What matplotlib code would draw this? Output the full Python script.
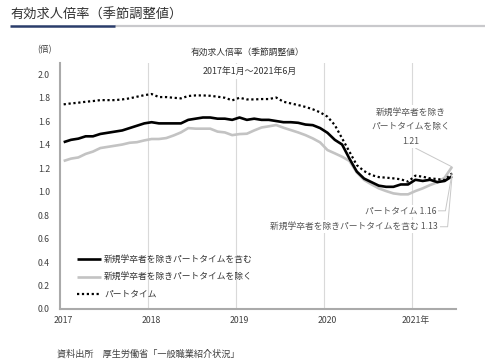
import numpy as np
import pandas as pd
import matplotlib
matplotlib.use("Agg")
import matplotlib.pyplot as plt
from matplotlib.lines import Line2D

plt.rcParams['font.family'] = ['Noto Sans CJK JP', 'DejaVu Sans']

# ---------------- data ----------------
start_month = "2017-01"
incl_part = [1.42, 1.44, 1.45, 1.47, 1.47, 1.49, 1.50, 1.51, 1.52, 1.54, 1.56, 1.58,
             1.59, 1.58, 1.58, 1.58, 1.58, 1.61, 1.62, 1.63, 1.63, 1.62, 1.62, 1.61,
             1.63, 1.61, 1.62, 1.61, 1.61, 1.60, 1.59, 1.59, 1.585, 1.57, 1.565, 1.54,
             1.50, 1.44, 1.40, 1.28, 1.17, 1.11, 1.08, 1.05, 1.04, 1.04, 1.06, 1.06,
             1.10, 1.09, 1.10, 1.08, 1.09, 1.13]
excl_part = [1.26, 1.28, 1.29, 1.32, 1.34, 1.37, 1.38, 1.39, 1.40, 1.415, 1.42, 1.435,
             1.447, 1.447, 1.455, 1.477, 1.503, 1.54, 1.535, 1.535, 1.535, 1.51, 1.503, 1.48,
             1.489, 1.492, 1.52, 1.545, 1.555, 1.566, 1.543, 1.523, 1.503, 1.48, 1.452, 1.418,
             1.353, 1.325, 1.296, 1.26, 1.163, 1.098, 1.061, 1.027, 1.004, 0.984, 0.976, 0.976,
             1.004, 1.027, 1.055, 1.078, 1.118, 1.21]
part_time = [1.742, 1.75, 1.756, 1.764, 1.77, 1.778, 1.778, 1.778, 1.784, 1.793, 1.807, 1.82,
             1.83, 1.804, 1.804, 1.798, 1.793, 1.813, 1.818, 1.818, 1.815, 1.807, 1.798, 1.776,
             1.798, 1.784, 1.784, 1.787, 1.787, 1.80, 1.764, 1.75, 1.736, 1.72, 1.70, 1.674,
             1.637, 1.566, 1.452, 1.339, 1.225, 1.174, 1.14, 1.123, 1.118, 1.112, 1.104, 1.084,
             1.135, 1.126, 1.112, 1.106, 1.098, 1.155]

series_names = ["新規学卒者を除きパートタイムを含む", "新規学卒者を除きパートタイムを除く", "パートタイム"]
year_labels = ["2017", "2018", "2019", "2020", "2021年"]
y_ticks = [0.0, 0.2, 0.4, 0.6, 0.8, 1.0, 1.2, 1.4, 1.6, 1.8, 2.0]

header = "有効求人倍率（季節調整値）"
chart_title = "有効求人倍率（季節調整値）"
period = "2017年1月〜2021年6月"
unit = "(倍)"
source = "資料出所　厚生労働省「一般職業紹介状況」"

# ---------------- figure ----------------
W, H = 500, 362
fig = plt.figure(figsize=(W / 100, H / 100), dpi=100)
fig.patch.set_facecolor("white")

def fx(p):
    return p / W

def fy(p):
    return 1 - p / H

ax_l, ax_r, ax_t, ax_b = 60, 455.7, 63, 309
ax = fig.add_axes([fx(ax_l), fy(ax_b), (ax_r - ax_l) / W, (ax_b - ax_t) / H])

dates = pd.date_range(start_month, periods=len(incl_part), freq="MS")
x = np.arange(len(dates))

ax.set_xlim(-0.5, len(x) - 0.5)
ax.set_ylim(0, 2.094)

# year boundaries (gridlines) and labels
jan_idx = [i for i, d in enumerate(dates) if d.month == 1]
for i in jan_idx[1:]:
    ax.axvline(i - 0.5, color="#d9d9d9", lw=0.8, zorder=0)
ax.set_xticks(jan_idx)
ax.set_xticklabels(year_labels[:len(jan_idx)])
ax.set_yticks(y_ticks)
ax.set_yticklabels([f"{v:.1f}" for v in y_ticks])
ax.tick_params(axis="both", length=0, labelsize=6.3, colors="#404040")
ax.tick_params(axis="y", pad=7.2)
ax.tick_params(axis="x", pad=5)

for s in ["top", "right"]:
    ax.spines[s].set_visible(False)
for s in ["left", "bottom"]:
    ax.spines[s].set_color("#aaaaaa")
    ax.spines[s].set_linewidth(1.5)

# series
black_kw = dict(color="black", lw=1.9, solid_capstyle="butt")
gray_kw = dict(color="#c3c3c3", lw=1.9, solid_capstyle="butt")
dot_kw = dict(color="black", lw=1.6, linestyle=(0, (1, 1.2)), dash_capstyle="butt")
ax.plot(x, excl_part, zorder=3, **gray_kw)
ax.plot(x, part_time, zorder=3, **dot_kw)
ax.plot(x, incl_part, zorder=4, **black_kw)

# period subtitle inside axes with white background
fig.text(fx(250), fy(71.5), period, ha="center", va="center", fontsize=6.4, color="#333333",
         bbox=dict(boxstyle="square,pad=0.35", fc="white", ec="none"), zorder=5)
fig.text(fx(247.5), fy(52), chart_title, ha="center", va="center", fontsize=6.3, color="#333333")
fig.text(fx(44.5), fy(50), unit, ha="center", va="center", fontsize=6.3, color="#404040")

# annotations
ann_color = "#555555"
lead = dict(arrowstyle="-", color="#c8c8c8", lw=0.7, shrinkA=0, shrinkB=0)
ax.annotate("新規学卒者を除き\nパートタイムを除く\n" + f"{excl_part[-1]:.2f}",
            xy=(x[-1], excl_part[-1]), xytext=(-41.5, 40), textcoords="offset pixels",
            ha="center", va="center", fontsize=6.3, color=ann_color, linespacing=1.75,
            bbox=dict(boxstyle="square,pad=0.3", fc="white", ec="none"),
            arrowprops=dict(relpos=(0.5, 0), **lead), zorder=5)
ax.annotate(f"パートタイム {part_time[-1]:.2f}",
            xy=(x[-1], part_time[-1]), xytext=(-16, -37.5), textcoords="offset pixels",
            ha="right", va="center", fontsize=6.3, color=ann_color,
            bbox=dict(boxstyle="square,pad=0.2", fc="white", ec="none"),
            arrowprops=dict(relpos=(1, 0.5), connectionstyle="angle,angleA=0,angleB=80,rad=0", **lead),
            zorder=5)
ax.annotate(f"{series_names[0]} {incl_part[-1]:.2f}",
            xy=(x[-1], incl_part[-1]), xytext=(-14, -50.5), textcoords="offset pixels",
            ha="right", va="center", fontsize=6.3, color=ann_color,
            bbox=dict(boxstyle="square,pad=0.2", fc="white", ec="none"),
            arrowprops=dict(relpos=(1, 0.5), connectionstyle="angle,angleA=0,angleB=85,rad=0", **lead),
            zorder=5)

# legend (manual)
leg_rows = [259, 276.5, 294]
leg_styles = [black_kw, gray_kw, dot_kw]
for name, yy, kw in zip(series_names, leg_rows, leg_styles):
    fig.add_artist(Line2D([fx(77), fx(101)], [fy(yy), fy(yy)], transform=fig.transFigure, **kw))
    fig.text(fx(104), fy(yy), name, ha="left", va="center", fontsize=6.3, color="#333333")

# header with underline
fig.text(fx(10), fy(15), header, ha="left", va="center", fontsize=9.5, color="#333333")
fig.add_artist(Line2D([fx(115), fx(485)], [fy(25.7), fy(25.7)], transform=fig.transFigure,
                      color="#c9c9cc", lw=1.6, solid_capstyle="butt"))
fig.add_artist(Line2D([fx(10), fx(115)], [fy(25.7), fy(25.7)], transform=fig.transFigure,
                      color="#2b3d6b", lw=1.8, solid_capstyle="butt"))

# source
fig.text(fx(57), fy(354), source, ha="left", va="center", fontsize=6.6, color="#404040")

fig.savefig("out.png", dpi=100, facecolor="white")
